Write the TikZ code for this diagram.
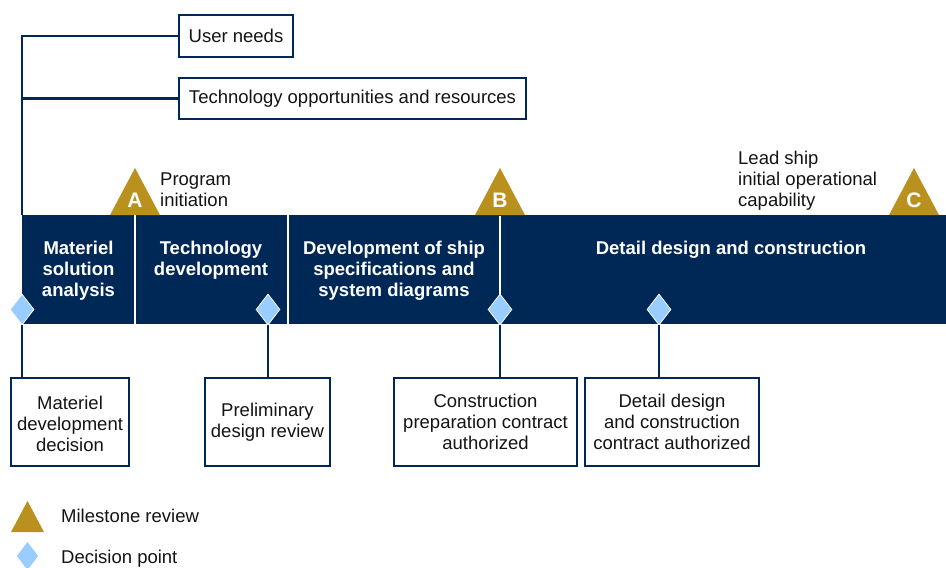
\documentclass[tikz,border=0pt]{standalone}
\usepackage{fontspec}
\setmainfont{Liberation Sans}
\usetikzlibrary{shapes.geometric}
\definecolor{navy}{RGB}{0,40,86}
\definecolor{gold}{RGB}{186,145,30}
\definecolor{lblue}{RGB}{153,204,255}
\definecolor{txt}{RGB}{20,20,20}
\begin{document}
\begin{tikzpicture}[x=1pt,y=-1pt,
  font=\fontsize{18.5}{21}\selectfont,
  box/.style={draw=navy, line width=2.4pt, fill=white, align=center, inner sep=0pt, text=txt},
  phase/.style={text=white, font=\fontsize{18.5}{21}\selectfont\bfseries, align=center},
  dpt/.style={diamond, fill=lblue, draw=white, line width=0.8pt, minimum width=24pt, minimum height=31pt, inner sep=0pt},
  conn/.style={draw=navy, line width=2.4pt},
  letter/.style={text=white, font=\fontsize{21}{21}\selectfont\bfseries, inner sep=0pt},
  lbl/.style={text=txt, align=left, inner sep=0pt, anchor=west}]
\useasboundingbox (0,0) rectangle (946,568);
\fill[white] (0,0) rectangle (946,568);

% top boxes
\node[box, minimum width=114pt, minimum height=42pt] (user) at (236,36) {User needs};
\node[box, minimum width=347pt, minimum height=41pt] (tech) at (352.5,98.5) {Technology opportunities and resources};

% band
\node[fill=navy, minimum width=924pt, minimum height=109pt, inner sep=0pt, anchor=north west] (band) at (22,215) {};
\draw[white, line width=2pt] (135,215) -- (135,324);
\draw[white, line width=2pt] (287.5,215) -- (287.5,324);

% connectors from top boxes
\draw[conn] (user.west) -| (band.north west);
\draw[conn] (tech.west) -- (tech.west -| band.north west);

% phase labels
\node[phase] (p1) at (78.5,271) {Materiel\\solution\\analysis};
\node[phase] (p2) at (211,260.5) {Technology\\development};
\node[phase] (p3) at (394,271) {Development of ship\\specifications and\\system diagrams};
\node[phase] (p4) at (731,250) {Detail design and construction};

% milestones
\fill[gold] (110,215) -- (135,168) -- (160,215) -- cycle;
\node[letter] (mA) at (135,200.5) {A};
\fill[gold] (475,215) -- (500,168) -- (525,215) -- cycle;
\node[letter] (mB) at (500,200.5) {B};
\fill[gold] (889,215) -- (914,168) -- (939,215) -- cycle;
\node[letter] (mC) at (914,200.5) {C};

\node[lbl] (prog) at (160,190) {Program\\initiation};
\node[lbl] (lead) at (738,181) {Lead ship\\initial operational\\capability};

% decision points
\node[dpt] (d1) at (22,309.5) {};
\node[dpt] (d2) at (268,309.5) {};
\node[dpt] (d3) at (500,309.5) {};
\node[dpt] (d4) at (659,309.5) {};
\draw[white, line width=1.5pt] (500,216) -- (d3.north);

% bottom boxes
\node[box, minimum width=118pt, minimum height=88pt] (b1) at (70,422) {};
\node[align=center, text=txt, inner sep=0pt] (t1) at (70,423.5) {Materiel\\development\\decision};
\node[box, minimum width=125pt, minimum height=88pt] (b2) at (267.5,422) {Preliminary\\design review};
\node[box, minimum width=183pt, minimum height=88pt] (b3) at (485.5,422) {Construction\\preparation contract\\authorized};
\node[box, minimum width=174pt, minimum height=88pt] (b4) at (672,422) {Detail design\\and construction\\contract authorized};

\draw[conn] (d1.south) -- (d1.south |- b1.north);
\draw[conn] (d2.south) -- (d2.south |- b2.north);
\draw[conn] (d3.south) -- (d3.south |- b3.north);
\draw[conn] (d4.south) -- (d4.south |- b4.north);

% legend
\fill[gold] (11,532) -- (27.5,501) -- (44,532) -- cycle;
\node[dpt, minimum width=23pt, minimum height=30pt] (ld) at (27.5,556) {};
\node[lbl] (lt1) at (61,515.5) {Milestone review};
\node[lbl] (lt2) at (61,558.5) {Decision point};
\end{tikzpicture}
\end{document}
